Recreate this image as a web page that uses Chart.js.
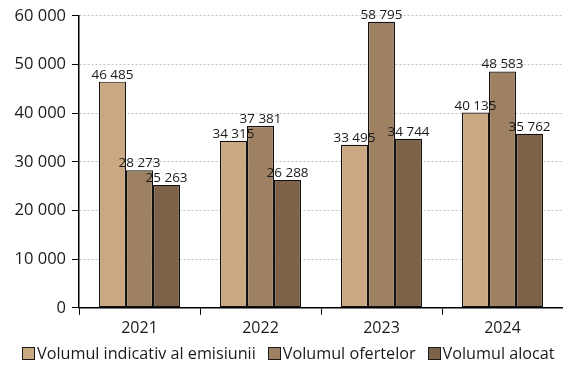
<!DOCTYPE html>
<html>
<head>
<meta charset="utf-8">
<script src="https://cdn.jsdelivr.net/npm/chart.js@4"></script>
<style>
    html, body { margin: 0; padding: 0; background: #fff; }
    #wrap { position: relative; width: 563px; height: 365px; }
    #legend {
        position: absolute; left: 22px; top: 343px;
        display: flex; align-items: center;
        font-family: 'Open Sans'; font-size: 16.2px; color: #1a1a1a;
        white-space: nowrap; line-height: 20px;
    }
    #legend .item { display: flex; align-items: center; margin-right: 12px; }
    #legend .box { width: 11px; height: 11px; border: 1px solid #1a1a1a; margin-right: 2px; }
</style>
</head>
<body>
<div id="wrap">
    <canvas id="volumeChart" width="563" height="365"></canvas>
    <div id="legend"></div>
</div>
<script>
const years = ['2021', '2022', '2023', '2024'];
const indicativ = [46485, 34315, 33495, 40135];
const oferte = [28273, 37381, 58795, 48583];
const alocat = [25263, 26288, 34744, 35762];
const seriesNames = ['Volumul indicativ al emisiunii', 'Volumul ofertelor', 'Volumul alocat'];
const seriesColors = ['#c9a882', '#9e8062', '#7b6249'];
const yTicks = [0, 10000, 20000, 30000, 40000, 50000, 60000];

function fmt(v) {
    return String(v).replace(/\B(?=(\d{3})+(?!\d))/g, ' ');
}

// draws the value above each bar
const valueLabels = {
    id: 'valueLabels',
    afterDatasetsDraw(chart) {
        const ctx = chart.ctx;
        ctx.save();
        ctx.font = '13.5px "Open Sans"';
        ctx.fillStyle = '#1a1a1a';
        ctx.textAlign = 'center';
        ctx.textBaseline = 'alphabetic';
        chart.data.datasets.forEach((ds, i) => {
            chart.getDatasetMeta(i).data.forEach((bar, j) => {
                ctx.fillText(fmt(ds.data[j]), bar.x, bar.y - 3);
            });
        });
        ctx.restore();
    }
};

const chart = new Chart(document.getElementById('volumeChart'), {
    type: 'bar',
    data: {
        labels: years,
        datasets: [indicativ, oferte, alocat].map((values, i) => ({
            label: seriesNames[i],
            data: values,
            backgroundColor: seriesColors[i],
            borderColor: '#111',
            borderWidth: 1.2,
            borderSkipped: false,
            barPercentage: 1,
            categoryPercentage: 0.67
        }))
    },
    options: {
        responsive: false,
        animation: false,
        layout: { padding: { top: 14, right: 0, left: 4, bottom: 23 } },
        plugins: {
            legend: { display: false },
            tooltip: { enabled: false }
        },
        scales: {
            x: {
                grid: {
                    drawOnChartArea: false,
                    color: '#000',
                    tickLength: 7
                },
                border: { color: '#000', width: 1.5 },
                ticks: {
                    color: '#1a1a1a',
                    font: { family: 'Open Sans', size: 16 },
                    padding: 4
                }
            },
            y: {
                min: 0,
                max: 60000,
                afterBuildTicks(axis) {
                    axis.ticks = yTicks.map(v => ({ value: v }));
                },
                afterFit(axis) {
                    axis.width = 75;
                },
                grid: {
                    color: '#c4c4c4',
                    tickColor: '#000',
                    tickLength: 7
                },
                border: { color: '#000', width: 1.5, dash: [2, 2] },
                ticks: {
                    color: '#1a1a1a',
                    font: { family: 'Open Sans', size: 16.5 },
                    padding: 6,
                    callback: v => fmt(v)
                }
            }
        }
    },
    plugins: [valueLabels]
});

const legend = document.getElementById('legend');
seriesNames.forEach((name, i) => {
    const item = document.createElement('div');
    item.className = 'item';
    const box = document.createElement('span');
    box.className = 'box';
    box.style.background = seriesColors[i];
    item.appendChild(box);
    item.appendChild(document.createTextNode(name));
    legend.appendChild(item);
});
</script>
</body>
</html>
